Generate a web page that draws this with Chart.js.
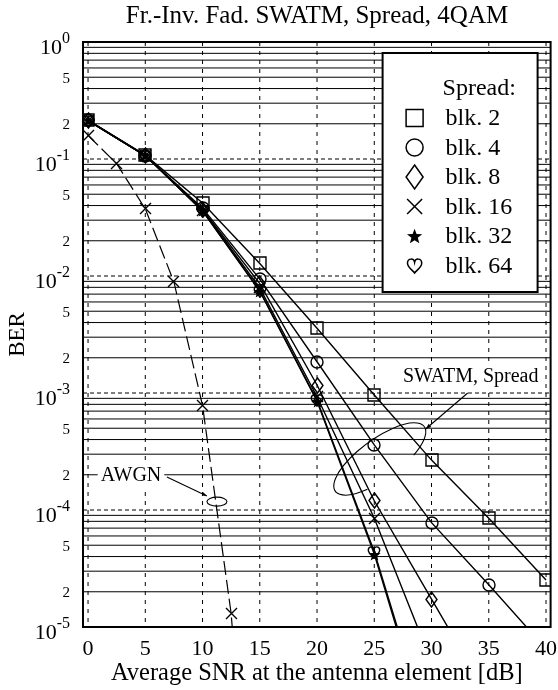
<!DOCTYPE html>
<html><head><meta charset="utf-8">
<script src="https://cdn.jsdelivr.net/npm/chart.js@4/dist/chart.umd.min.js"></script>
<style>html,body{margin:0;padding:0;background:#fff;}#wrap{width:558px;height:690px;}</style>
</head><body><div id="wrap"><canvas id="c" width="558" height="690"></canvas></div>
<script>
// ---- data ----
const snr = [0, 5, 10, 15, 20, 25, 30, 35, 40];
const blk2  = [0.215, 0.108, 0.042, 0.0128, 0.00357, 0.00096, 0.000267, 0.000085, 0.0000252];
const blk4  = [0.214, 0.107, 0.038, 0.0094, 0.00185, 0.00036, 0.000078, 0.000023, 0.0000065];
const blk8  = [0.214, 0.107, 0.037, 0.0086, 0.00117, 0.00012, 0.0000173, 0.0000025, null];
const blk16 = [0.213, 0.107, 0.0365, 0.0079, 0.00093, 0.000085, 0.000005, null, null];
const blk32 = [0.213, 0.107, 0.036, 0.0074, 0.00085, 0.000042, 0.000001, null, null];
const blk64 = [0.213, 0.107, 0.036, 0.0075, 0.00087, 0.000044, 0.0000011, null, null];
const awgnSnr = [0, 2.5, 5, 7.5, 10, 12.5, 15];
const awgnBer = [0.159, 0.0912, 0.0375, 0.0089, 0.00078, 0.0000130, 0.00000001];
const seriesNames = ['blk. 2', 'blk. 4', 'blk. 8', 'blk. 16', 'blk. 32', 'blk. 64'];
const seriesMarkers = ['square', 'circle', 'diamond', 'cross', 'star', 'heart'];
const xTicks = [0, 5, 10, 15, 20, 25, 30, 35, 40];
const yDecadeExps = [0, -1, -2, -3, -4, -5];
const yMinorLabelVals = [5e-1, 2e-1, 5e-2, 2e-2, 5e-3, 2e-3, 5e-4, 2e-4, 5e-5, 2e-5];
const yMinorLabelText = ['5', '2', '5', '2', '5', '2', '5', '2', '5', '2'];
const titleText = 'Fr.-Inv. Fad. SWATM, Spread, 4QAM';
const xTitle = 'Average SNR at the antenna element [dB]';
const yTitle = 'BER';
const legendTitle = 'Spread:';

const FONT = "'Liberation Serif', 'Times New Roman', serif";

// ---- marker drawing ----
const plotSizes = {square: 12, circle: 12, diamond: [11, 15], cross: 11, star: 13, heart: 12};
const legendSizes = {square: 17, circle: 17, diamond: [17, 24], cross: 15, star: 16, heart: 15};

function drawMarker(c, kind, cx, cy, sz, lw) {
  c.save();
  c.translate(cx, cy);
  c.strokeStyle = '#000'; c.fillStyle = '#000'; c.lineWidth = lw;
  c.beginPath();
  if (kind === 'square') {
    const h = sz / 2; c.rect(-h, -h, sz, sz); c.stroke();
  } else if (kind === 'circle') {
    c.arc(0, 0, sz / 2, 0, Math.PI * 2); c.stroke();
  } else if (kind === 'diamond') {
    const w = sz[0] / 2, h = sz[1] / 2;
    c.moveTo(0, -h); c.lineTo(w, 0); c.lineTo(0, h); c.lineTo(-w, 0); c.closePath(); c.stroke();
  } else if (kind === 'cross') {
    const h = sz / 2;
    c.moveTo(-h, -h); c.lineTo(h, h); c.moveTo(h, -h); c.lineTo(-h, h); c.stroke();
  } else if (kind === 'star') {
    const R = sz / 2, r = R * 0.42;
    for (let i = 0; i < 10; i++) {
      const a = -Math.PI / 2 + i * Math.PI / 5;
      const rr = i % 2 ? r : R;
      const px = rr * Math.cos(a), py = rr * Math.sin(a) + R * 0.1;
      i ? c.lineTo(px, py) : c.moveTo(px, py);
    }
    c.closePath(); c.fill();
  } else if (kind === 'heart') {
    const w = sz / 2;
    c.moveTo(0, w * 1.0);
    c.bezierCurveTo(-w * 0.25, w * 0.65, -w * 1.0, w * 0.2, -w * 0.95, -w * 0.35);
    c.bezierCurveTo(-w * 0.9, -w * 1.0, -w * 0.1, -w * 1.0, 0, -w * 0.45);
    c.bezierCurveTo(w * 0.1, -w * 1.0, w * 0.9, -w * 1.0, w * 0.95, -w * 0.35);
    c.bezierCurveTo(w * 1.0, w * 0.2, w * 0.25, w * 0.65, 0, w * 1.0);
    c.closePath(); c.stroke();
  }
  c.restore();
}
function markerCanvas(kind) {
  const sz = plotSizes[kind];
  const m = Array.isArray(sz) ? Math.max(sz[0], sz[1]) : sz;
  const S = Math.ceil(m + 4);
  const cv = document.createElement('canvas');
  cv.width = S; cv.height = S;
  drawMarker(cv.getContext('2d'), kind, S / 2, S / 2, sz, 1.4);
  return cv;
}

// ---- datasets ----
const seriesData = [blk2, blk4, blk8, blk16, blk32, blk64];
const datasets = seriesData.map((arr, k) => ({
  label: seriesNames[k],
  data: snr.map((x, i) => ({x: x, y: arr[i]})).filter(p => p.y !== null),
  borderColor: '#000', borderWidth: 1.4, tension: 0, fill: false,
  pointStyle: markerCanvas(seriesMarkers[k]), pointRadius: 6
}));
datasets.push({
  label: 'AWGN',
  data: awgnSnr.map((x, i) => ({x: x, y: awgnBer[i]})),
  borderColor: '#000', borderWidth: 1.2, borderDash: [14, 5], tension: 0, fill: false,
  pointStyle: markerCanvas('cross'), pointRadius: 6
});

// ---- custom drawing plugin ----
function arrowHead(c, x0, y0, x1, y1, len) {
  const a = Math.atan2(y1 - y0, x1 - x0);
  c.beginPath();
  c.moveTo(x1, y1);
  c.lineTo(x1 - len * Math.cos(a - 0.35), y1 - len * Math.sin(a - 0.35));
  c.lineTo(x1 - len * Math.cos(a + 0.35), y1 - len * Math.sin(a + 0.35));
  c.closePath(); c.fill();
}

const deco = {
  id: 'deco',
  beforeDraw(chart) { chart.ctx.imageSmoothingEnabled = false; },
  beforeDatasetsDraw(chart) {
    const {ctx: c, chartArea: a, scales: {x, y}} = chart;
    c.imageSmoothingEnabled = false;
    c.save();
    c.strokeStyle = '#000';
    c.lineWidth = 1;
    // minor horizontal (solid)
    for (let e = -5; e < 0; e++) {
      for (let m = 2; m <= 9; m++) {
        const py = y.getPixelForValue(m * Math.pow(10, e));
        c.beginPath(); c.moveTo(a.left, py); c.lineTo(a.right, py); c.stroke();
      }
    }
    // decade horizontal (dashed)
    c.setLineDash([4, 3]);
    for (let e = -4; e < 0; e++) {
      const py = y.getPixelForValue(Math.pow(10, e));
      c.beginPath(); c.moveTo(a.left, py); c.lineTo(a.right, py); c.stroke();
    }
    // vertical dashed
    c.setLineDash([4, 5]);
    xTicks.forEach(v => {
      const px = x.getPixelForValue(v);
      c.beginPath(); c.moveTo(px, a.top); c.lineTo(px, a.bottom); c.stroke();
    });
    c.restore();
  },
  afterDatasetsDraw(chart) {
    const {ctx: c, chartArea: a, scales: {x, y}} = chart;
    c.save();
    // border
    c.strokeStyle = '#000'; c.lineWidth = 2;
    c.strokeRect(a.left, a.top, a.right - a.left, a.bottom - a.top);

    // y tick labels
    c.fillStyle = '#000';
    c.textAlign = 'right'; c.textBaseline = 'alphabetic';
    const lx = a.left - 13;
    yDecadeExps.forEach(e => {
      const py = y.getPixelForValue(Math.pow(10, e));
      c.font = '16px ' + FONT;
      const sup = String(e);
      const w = c.measureText(sup).width;
      c.fillText(sup, lx, py + 1);
      c.font = '22px ' + FONT;
      c.fillText('10', lx - w, py + 12);
    });
    c.font = '15px ' + FONT;
    yMinorLabelVals.forEach((v, i) => {
      const py = y.getPixelForValue(v);
      c.fillText(yMinorLabelText[i], lx, py + 5.5);
    });
    // y title
    c.save();
    c.translate(18, (a.top + a.bottom) / 2);
    c.rotate(-Math.PI / 2);
    c.textAlign = 'center'; c.textBaseline = 'middle';
    c.font = '23px ' + FONT;
    c.fillText(yTitle, 0, 0);
    c.restore();

    // annotations
    c.font = '20px ' + FONT;
    c.textAlign = 'center'; c.textBaseline = 'middle';
    const note = (txt, dx, dy) => {
      const px = x.getPixelForValue(dx), py = y.getPixelForValue(dy);
      const w = c.measureText(txt).width;
      c.fillStyle = '#fff';
      c.fillRect(px - w / 2 - 3, py - 13, w + 6, 26);
      c.fillStyle = '#000';
      c.fillText(txt, px, py + 1);
    };
    note('SWATM, Spread', 33.42, 1.40e-3);
    note('AWGN', 3.75, 2.0e-4);
    c.lineWidth = 1.1;
    c.strokeStyle = '#000';
    // SWATM pointer
    let x0 = x.getPixelForValue(33.16), y0 = y.getPixelForValue(1.0e-3);
    let x1 = x.getPixelForValue(29.49), y1 = y.getPixelForValue(4.92e-4);
    c.beginPath(); c.moveTo(x0, y0); c.lineTo(x1, y1); c.stroke();
    arrowHead(c, x0, y0, x1, y1, 6);
    c.beginPath();
    c.ellipse(x.getPixelForValue(25.48), y.getPixelForValue(2.73e-4), 55, 20, -36 * Math.PI / 180, 2.1, Math.PI * 2 + 1.0);
    c.stroke();
    // AWGN pointer
    x0 = x.getPixelForValue(6.89); y0 = y.getPixelForValue(1.91e-4);
    x1 = x.getPixelForValue(10.38); y1 = y.getPixelForValue(1.32e-4);
    c.beginPath(); c.moveTo(x0, y0); c.lineTo(x1, y1); c.stroke();
    arrowHead(c, x0, y0, x1, y1, 5);
    c.beginPath();
    c.ellipse(x.getPixelForValue(11.26), y.getPixelForValue(1.18e-4), 10, 4.5, 0, 0, Math.PI * 2);
    c.stroke();

    // legend
    const L = a.right - 168, T = a.top + 11, W = 155, H = 239;
    c.fillStyle = '#fff';
    c.fillRect(L, T, W, H);
    c.lineWidth = 2; c.strokeStyle = '#000';
    c.strokeRect(L, T, W, H);
    c.fillStyle = '#000';
    c.font = '24px ' + FONT;
    c.textAlign = 'left'; c.textBaseline = 'middle';
    c.fillText(legendTitle, L + 60, T + 36);
    seriesNames.forEach((nm, k) => {
      const ry = T + 65 + k * 29.5;
      drawMarker(c, seriesMarkers[k], L + 32, ry, legendSizes[seriesMarkers[k]], 1.5);
      c.fillStyle = '#000';
      c.fillText(nm, L + 63, ry + 1);
    });
    c.restore();
  }
};

new Chart(document.getElementById('c'), {
  type: 'line',
  data: {datasets: datasets},
  options: {
    responsive: false, animation: false,
    layout: {padding: {left: 83, right: 7, top: 0, bottom: 0}},
    plugins: {
      legend: {display: false}, tooltip: {enabled: false},
      title: {display: true, text: titleText, color: '#000',
        font: {family: FONT, size: 25, weight: 'normal'}, padding: {top: 1, bottom: 11}}
    },
    scales: {
      x: {
        type: 'linear', min: -0.44, max: 40.4,
        grid: {display: false, drawTicks: false}, border: {display: false},
        afterBuildTicks: s => { s.ticks = xTicks.map(v => ({value: v})); },
        afterFit: s => { s.height = 63; s.paddingLeft = 0; s.paddingRight = 0; },
        ticks: {color: '#000', font: {family: FONT, size: 22}, padding: 9, maxRotation: 0, autoSkip: false},
        title: {display: true, text: xTitle, color: '#000', font: {family: FONT, size: 24.5}, padding: {top: 0, bottom: 1.6}}
      },
      y: {type: 'logarithmic', min: 1e-5, max: 1, display: false}
    }
  },
  plugins: [deco]
});
</script>
</body></html>
